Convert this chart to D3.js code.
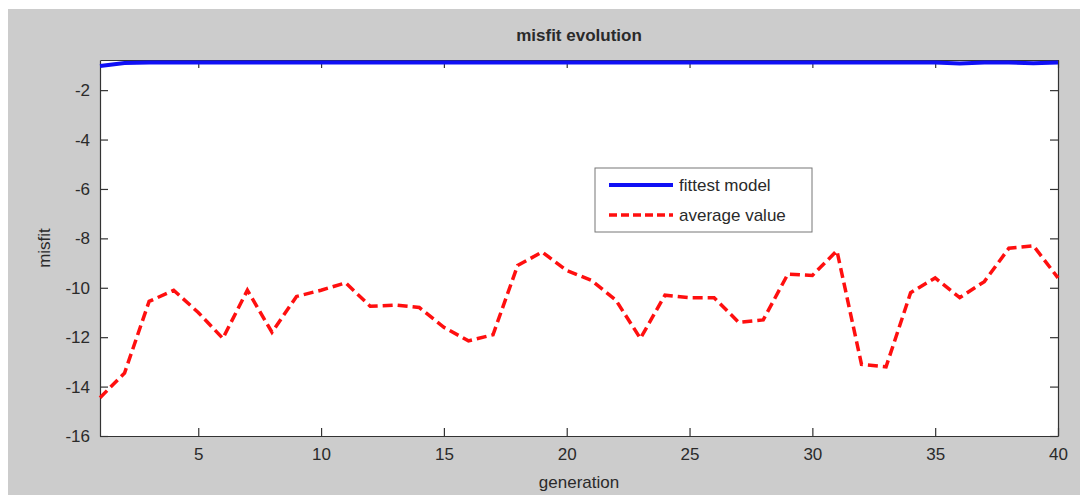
<!DOCTYPE html>
<html lang="en">
<head>
  <meta charset="UTF-8">
  <title>misfit evolution</title>
  <style>
    body { margin: 0; background: #fff; }
    svg text { font-family: "Liberation Sans", Arial, sans-serif; fill: #2a2a2a; }
    .axis path, .axis line { stroke: #333; stroke-width: 1.2px; }
    .axis text { font-size: 17px; }
    .title { font-size: 17px; font-weight: bold; text-anchor: middle; }
    .label { font-size: 17px; text-anchor: middle; }
  </style>
</head>
<body>
<div id="chart"></div>
<script src="https://d3js.org/d3.v7.min.js"></script>
<script>
  // generations 1..40
  var generations = d3.range(1, 41);

  // best misfit per generation
  var fittest = [-1.02, -0.9, -0.88, -0.88, -0.88, -0.88, -0.88, -0.88, -0.88, -0.88,
                 -0.88, -0.88, -0.88, -0.88, -0.88, -0.88, -0.88, -0.88, -0.88, -0.88,
                 -0.88, -0.88, -0.88, -0.88, -0.88, -0.88, -0.88, -0.88, -0.88, -0.88,
                 -0.88, -0.88, -0.88, -0.88, -0.88, -0.92, -0.88, -0.88, -0.91, -0.88];

  // mean misfit of the population
  var average = [-14.45, -13.45, -10.55, -10.1, -11.0, -12.05, -10.1, -11.8, -10.35, -10.1,
                 -9.8, -10.75, -10.7, -10.8, -11.6, -12.15, -11.9, -9.1, -8.55, -9.3,
                 -9.7, -10.5, -12.05, -10.3, -10.4, -10.4, -11.4, -11.3, -9.45, -9.5,
                 -8.5, -13.1, -13.2, -10.2, -9.6, -10.4, -9.75, -8.4, -8.3, -9.6];

  var xTicks = [5, 10, 15, 20, 25, 30, 35, 40];
  var yTicks = [-2, -4, -6, -8, -10, -12, -14, -16];
  var seriesNames = ["fittest model", "average value"];

  var width = 1080, height = 500;
  var margin = { left: 100, right: 22, top: 60, bottom: 64 };
  var plotW = width - margin.left - margin.right;
  var plotH = height - margin.top - margin.bottom;

  var svg = d3.select("#chart").append("svg")
    .attr("width", width)
    .attr("height", height);

  // grey figure background
  svg.append("rect")
    .attr("x", 8).attr("y", 9)
    .attr("width", width - 8).attr("height", 486)
    .attr("fill", "#cccccc");

  var g = svg.append("g")
    .attr("transform", "translate(" + margin.left + "," + margin.top + ")");

  var x = d3.scaleLinear().domain([1, 40]).range([0, plotW]);
  var y = d3.scaleLinear().domain([-16, -0.78]).range([plotH, 0]);

  g.append("rect")
    .attr("width", plotW).attr("height", plotH)
    .attr("fill", "#fff");

  // plain hyphen minus, like the original plot
  var plain = function(d) { return String(d); };

  // axes with inward ticks on all four sides
  g.append("g").attr("class", "axis")
    .attr("transform", "translate(0," + plotH + ")")
    .call(d3.axisBottom(x).tickValues(xTicks).tickSizeInner(-8).tickSizeOuter(0).tickPadding(12).tickFormat(plain));
  g.append("g").attr("class", "axis")
    .call(d3.axisTop(x).tickValues(xTicks).tickSizeInner(-8).tickSizeOuter(0).tickFormat(""));
  g.append("g").attr("class", "axis")
    .call(d3.axisLeft(y).tickValues(yTicks).tickSizeInner(-8).tickSizeOuter(0).tickPadding(10).tickFormat(plain));
  g.append("g").attr("class", "axis")
    .attr("transform", "translate(" + plotW + ",0)")
    .call(d3.axisRight(y).tickValues(yTicks).tickSizeInner(-8).tickSizeOuter(0).tickFormat(""));

  var line = d3.line()
    .x(function(d, i) { return x(generations[i]); })
    .y(function(d) { return y(d); });

  g.append("path")
    .datum(average)
    .attr("fill", "none")
    .attr("stroke", "#ff0f0f")
    .attr("stroke-width", 3.5)
    .attr("stroke-dasharray", "10,5")
    .attr("d", line);

  g.append("path")
    .datum(fittest)
    .attr("fill", "none")
    .attr("stroke", "#1010f5")
    .attr("stroke-width", 4)
    .attr("d", line);

  // title and axis labels
  svg.append("text").attr("class", "title")
    .attr("x", margin.left + plotW / 2).attr("y", 41)
    .text("misfit evolution");
  svg.append("text").attr("class", "label")
    .attr("x", margin.left + plotW / 2).attr("y", 488)
    .text("generation");
  svg.append("text").attr("class", "label")
    .attr("transform", "translate(50," + (margin.top + plotH / 2) + ") rotate(-90)")
    .text("misfit");

  // legend
  var legend = svg.append("g").attr("transform", "translate(595,168)");
  legend.append("rect")
    .attr("width", 217).attr("height", 64)
    .attr("fill", "#fff").attr("stroke", "#777").attr("stroke-width", 1);
  var styles = [
    { color: "#1010f5", dash: null, w: 4 },
    { color: "#ff0f0f", dash: "8,4", w: 3.5 }
  ];
  seriesNames.forEach(function(name, i) {
    var yy = 17 + i * 30;
    legend.append("line")
      .attr("x1", 14).attr("x2", 78).attr("y1", yy).attr("y2", yy)
      .attr("stroke", styles[i].color)
      .attr("stroke-width", styles[i].w)
      .attr("stroke-dasharray", styles[i].dash);
    legend.append("text")
      .attr("x", 84).attr("y", yy + 6)
      .style("font-size", "17px")
      .text(name);
  });
</script>
</body>
</html>
